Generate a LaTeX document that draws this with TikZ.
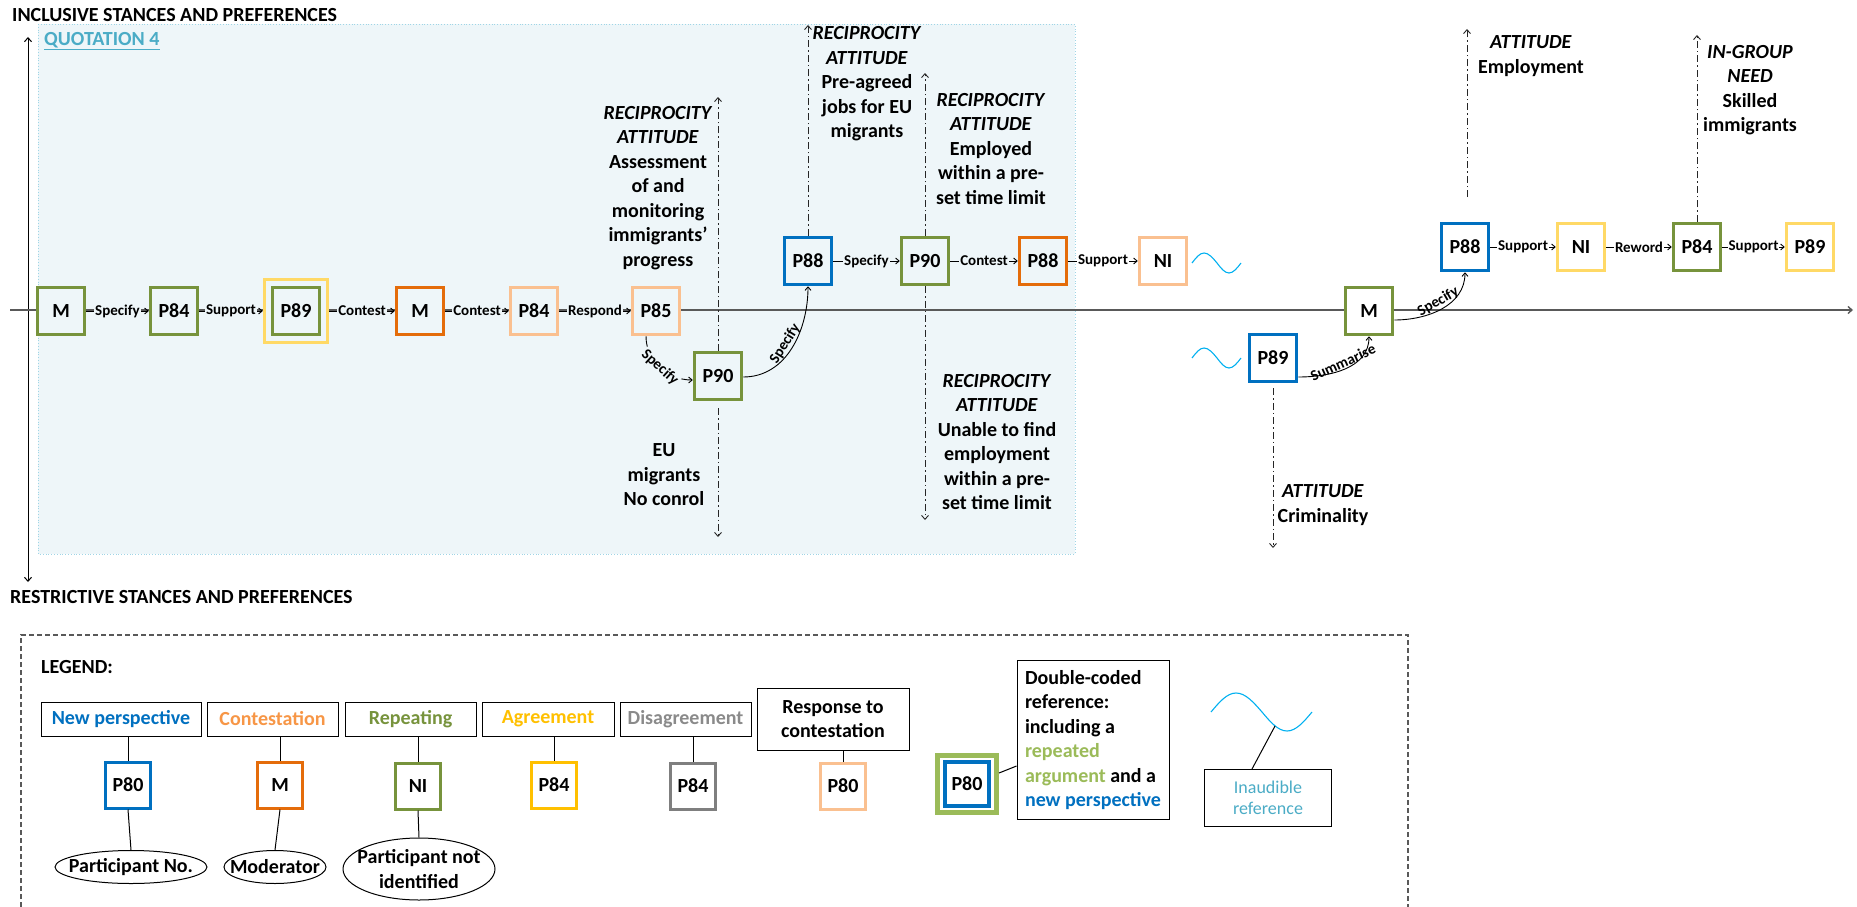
\documentclass[tikz,border=0pt]{standalone}
\usepackage{fontspec}
\setmainfont{Carlito}
\usetikzlibrary{arrows.meta,shapes.geometric}

\definecolor{qbg}{HTML}{EEF6F9}
\definecolor{qborder}{HTML}{9FD5E6}
\definecolor{cgreen}{HTML}{77933C}
\definecolor{cblue}{HTML}{0070C0}
\definecolor{corange}{HTML}{E46C0A}
\definecolor{cpeach}{HTML}{FAC090}
\definecolor{cyellow}{HTML}{FFD966}
\definecolor{cgold}{HTML}{FFC000}
\definecolor{cgrey}{HTML}{7F7F7F}
\definecolor{cgreytext}{HTML}{8A8A8A}
\definecolor{clgreen}{HTML}{9BBB59}
\definecolor{cteal}{HTML}{4BACC6}
\definecolor{ccyan}{HTML}{00B0F0}
\definecolor{ccont}{HTML}{F79646}
\definecolor{axisgrey}{HTML}{595959}

\tikzset{
  every node/.style={font=\fontsize{20}{24.5}\selectfont\bfseries},
  box/.style={draw, line width=3.5pt, minimum width=47pt, minimum height=47pt, inner sep=0pt},
  sbx/.style={draw, line width=3pt, minimum width=45pt, minimum height=46pt, inner sep=0pt, fill=white},
  lab/.style={font=\fontsize{15}{18}\selectfont\bfseries, inner sep=1pt, fill=qbg},
  con/.style={line width=0.9pt, draw=black, -{Straight Barb[length=3.5pt,width=6pt]}},
  annot/.style={draw=black!85, line width=0.9pt, dash pattern=on 7pt off 3pt on 1.5pt off 3pt, -{Straight Barb[length=4pt,width=7pt]}},
  ann/.style={align=center, inner sep=0pt},
  wave/.style={draw=ccyan, line width=1.1pt},
  lbox/.style={draw, line width=1pt, fill=white, inner sep=0pt, minimum height=34pt},
  lc/.style={draw=black, line width=1pt},
  ell/.style={ellipse, draw, line width=1pt, fill=white, inner xsep=-9pt, inner ysep=0pt},
  axisline/.style={draw=axisgrey, line width=1.4pt},
}

\begin{document}
\begin{tikzpicture}[x=1pt,y=1pt]
\useasboundingbox (0,0) rectangle (1857,-907);

% quotation region
\fill[qbg] (38,-24) rectangle (1075,-554);
\draw[qborder, line width=0.8pt, dotted] (38,-24) rectangle (1075,-554);

% titles
\node[anchor=west, inner sep=0pt] (t1) at (12,-15) {INCLUSIVE STANCES AND PREFERENCES};
\node[anchor=west, inner sep=0pt] (t2) at (10,-597) {RESTRICTIVE STANCES AND PREFERENCES};
\node[anchor=west, inner sep=0pt, text=cteal] (q4) at (44,-41) {\underline{QUOTATION 4}};

% axes
\coordinate (vtop) at (28,-37);
\coordinate (vbot) at (28,-582);
\draw[line width=1pt, {Straight Barb[length=4pt,width=7pt]}-{Straight Barb[length=4pt,width=7pt]}] (vbot) -- (vtop);
\coordinate (hl) at (10,-310);
\coordinate (hr) at (1853,-310);
\draw[axisline, -{Straight Barb[length=4pt,width=7pt]}] (hl) -- (hr);

% boxes
\node[box, draw=cgreen, fill=qbg] (m1) at (61,-311) {M};
\node[box, draw=cgreen, fill=qbg] (p84a) at (174,-311) {P84};
\node[box, draw=cyellow, fill=qbg, minimum size=63pt] (p89o) at (296,-311) {};
\node[box, draw=cgreen, fill=qbg] (p89a) at (296,-311) {P89};
\node[box, draw=corange, fill=qbg] (m2) at (420,-311) {M};
\node[box, draw=cpeach, fill=qbg] (p84b) at (534,-311) {P84};
\node[box, draw=cpeach, fill=qbg] (p85) at (656,-311) {P85};
\node[box, draw=cgreen, fill=qbg] (p90a) at (718,-376) {P90};
\node[box, draw=cblue, fill=qbg] (p88a) at (808,-261) {P88};
\node[box, draw=cgreen, fill=qbg] (p90b) at (925,-261) {P90};
\node[box, draw=corange, fill=qbg] (p88b) at (1043,-261) {P88};
\node[box, draw=cpeach, fill=white] (ni1) at (1163,-261) {NI};
\node[box, draw=cblue, fill=white] (p89b) at (1273,-358) {P89};
\node[box, draw=cgreen, fill=white] (m3) at (1369,-311) {M};
\node[box, draw=cblue, fill=white] (p88c) at (1465,-247) {P88};
\node[box, draw=cyellow, fill=white] (ni2) at (1581,-247) {NI};
\node[box, draw=cgreen, fill=white] (p84c) at (1697,-247) {P84};
\node[box, draw=cyellow, fill=white] (p89c) at (1810,-247) {P89};

% dashed annotation lines
\coordinate (e1) at (718,-97);
\coordinate (e2) at (718,-537);
\coordinate (e3) at (808,-25);
\coordinate (e4) at (925,-73);
\coordinate (e5) at (925,-520);
\coordinate (e6s) at (1467,-197);
\coordinate (e6) at (1467,-29);
\coordinate (e7) at (1697,-35);
\coordinate (e8) at (1273,-548);
\draw[annot] (p90a.north) -- (e1);
\draw[annot] ([yshift=-7pt]p90a.south) -- (e2);
\draw[annot] (p88a.north) -- (e3);
\draw[annot] (p90b.north) -- (e4);
\draw[annot] (p90b.south) -- (e5);
\draw[annot] (e6s) -- (e6);
\draw[annot] (p84c.north) -- (e7);
\draw[annot] ([yshift=-5pt]p89b.south) -- (e8);

% straight connectors
\draw[con] (m1) -- node[lab]{Specify} (p84a);
\draw[con] (p84a) -- node[lab]{Support} (p89o);
\draw[con] (p89o) -- node[lab]{Contest} (m2);
\draw[con] (m2) -- node[lab]{Contest} (p84b);
\draw[con] (p84b) -- node[lab]{Respond} (p85);
\draw[con] (p88a) -- node[lab]{Specify} (p90b);
\draw[con] (p90b) -- node[lab]{Contest} (p88b);
\draw[con] (p88b) -- node[lab, fill=white]{Support} (ni1);
\draw[con] (p88c) -- node[lab, fill=white]{Support} (ni2);
\draw[con] (ni2) -- node[lab, fill=white]{Reword} (p84c);
\draw[con] (p84c) -- node[lab, fill=white]{Support} (p89c);

% curved connectors
\draw[con] ([xshift=-10pt]p85.south) to[out=-90,in=180] node[lab, sloped, pos=0.5]{Specify} ([yshift=-4pt]p90a.west);
\draw[con] ([yshift=-1pt]p90a.east) to[out=0,in=-90] node[lab, sloped, above, fill=none, pos=0.5]{Specify} (p88a.south);
\draw[con] ([yshift=-19pt]p89b.east) to[out=0,in=-90] node[lab, sloped, above, fill=none, pos=0.5]{Summarise} (m3.south);
\draw[con] ([yshift=-9pt]m3.east) to[out=0,in=-90] node[lab, sloped, above, fill=none, pos=0.5]{Specify} (p88c.south);

% inaudible waves
\draw[wave] (1192,-263) sin (1204,-253) cos (1217,-263) sin (1229,-273) cos (1241,-263);
\draw[wave] (1192,-358) sin (1204,-348) cos (1217,-358) sin (1229,-368) cos (1241,-358);

% annotation texts
\node[ann] (a1) at (658,-188) {\textit{RECIPROCITY}\\\textit{ATTITUDE}\\Assessment\\of and\\monitoring\\immigrants’\\progress};
\node[ann] (a2) at (867,-84) {\textit{RECIPROCITY}\\\textit{ATTITUDE}\\Pre-agreed\\jobs for EU\\migrants};
\node[ann] (a3) at (991,-149) {\textit{RECIPROCITY}\\\textit{ATTITUDE}\\Employed\\within a pre-\\set time limit};
\node[ann] (a4) at (664,-475) {EU\\migrants\\No conrol};
\node[ann] (a5) at (997,-442) {\textit{RECIPROCITY}\\\textit{ATTITUDE}\\Unable to find\\employment\\within a pre-\\set time limit};
\node[ann] (a6) at (1531,-56) {\textit{ATTITUDE}\\Employment};
\node[ann] (a7) at (1750,-90) {\textit{IN-GROUP}\\\textit{NEED}\\Skilled\\immigrants};
\node[ann] (a8) at (1323,-505) {\textit{ATTITUDE}\\Criminality};

% ---------- legend ----------
\draw[draw=axisgrey, line width=1.2pt, dash pattern=on 5pt off 3pt] (21,-907) -- (21,-635) -- (1408,-635) -- (1408,-907);
\node[anchor=west, inner sep=0pt] (leg) at (41,-667) {LEGEND:};

\node[lbox, minimum width=160pt, text=cblue] (lnp) at (121,-719) {New perspective};
\node[lbox, minimum width=131pt, text=ccont] (lco) at (272.5,-719) {Contestation};
\node[lbox, minimum width=131pt, text=cgreen] (lre) at (410.5,-719) {Repeating};
\node[lbox, minimum width=132pt, text=cgold] (lag) at (548,-719) {Agreement};
\node[lbox, minimum width=131pt, text=cgreytext] (ldi) at (685.5,-719) {Disagreement};
\node[lbox, minimum width=152pt, minimum height=62pt, align=center] (lrs) at (833,-719) {Response to\\contestation};
\node[lbox, minimum width=152pt, minimum height=159pt, align=left] (ldc) at (1093,-740) {Double-coded\\reference:\\including a\\{\color{clgreen}repeated}\\{\color{clgreen}argument} and a\\{\color{cblue}new perspective}};
\node[lbox, minimum width=127pt, minimum height=57pt, align=center, font=\fontsize{18}{21}\selectfont, text=cteal] (lin) at (1268,-798) {Inaudible\\reference};

\node[sbx, draw=cblue] (s1) at (128,-785) {P80};
\node[sbx, draw=corange] (s2) at (280,-785) {M};
\node[sbx, draw=cgreen] (s3) at (418,-786) {NI};
\node[sbx, draw=cgold] (s4) at (554,-785) {P84};
\node[sbx, draw=cgrey] (s5) at (693,-786) {P84};
\node[sbx, draw=cpeach] (s6) at (843,-786) {P80};
\node[sbx, draw=clgreen, line width=5pt, minimum width=59pt, minimum height=57pt] (s7o) at (967,-784) {};
\node[sbx, draw=cblue, line width=3.5pt, minimum width=44pt, minimum height=44pt] (s7) at (967,-784) {P80};

\node[ell, minimum width=152pt, minimum height=33pt] (el1) at (131,-867) {Participant No.};
\node[ell, minimum width=102pt, minimum height=33pt] (el2) at (275,-867) {Moderator};
\node[ell, minimum width=152pt, minimum height=62pt, align=center] (el3) at (419,-869) {Participant not\\identified};

\draw[lc] (s1.north) -- (s1.north |- lnp.south);
\draw[lc] (s2.north) -- (s2.north |- lco.south);
\draw[lc] (s3.north) -- (s3.north |- lre.south);
\draw[lc] (s4.north) -- (s4.north |- lag.south);
\draw[lc] (s5.north) -- (s5.north |- ldi.south);
\draw[lc] (s6.north) -- (s6.north |- lrs.south);
\draw[lc] (s1.south) -- (el1.north);
\draw[lc] (s2.south) -- (el2.north);
\draw[lc] (s3.south) -- (el3.north);
\draw[lc] ([yshift=11pt]s7o.east) -- ([yshift=-26pt]ldc.west);

\draw[wave] (1211,-712) sin (1236,-693) cos (1262,-712) sin (1287,-731) cos (1312,-712);
\coordinate (wv) at (1275,-726);
\draw[lc] (wv) -- ([xshift=-16pt]lin.north);
\end{tikzpicture}
\end{document}
